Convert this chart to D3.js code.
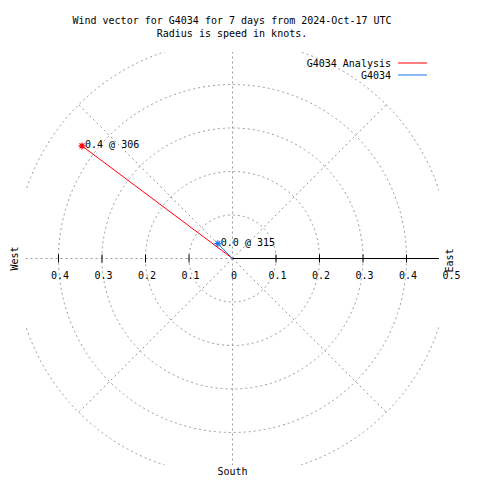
<!DOCTYPE html>
<html>
<head>
<meta charset="utf-8">
<script src="https://cdn.jsdelivr.net/npm/d3@7"></script>
<style>
  html, body { margin: 0; padding: 0; background: #fff; }
  svg { display: block; }
  text { font-family: "DejaVu Sans Mono", "Liberation Mono", monospace; font-size: 10px; fill: #000; }
</style>
</head>
<body>
<div id="chart"></div>
<script>
// ---- data ----
const titleLines = ["Wind vector for G4034 for 7 days from 2024-Oct-17 UTC", "Radius is speed in knots."];
const seriesNames = ["G4034 Analysis", "G4034"];
const speeds = [0.432, 0.048];       // knots
const directions = [306.8, 315.4];   // degrees, compass
const seriesColors = ["#ff0000", "#1e78e6"];
const ringValues = [0.1, 0.2, 0.3, 0.4, 0.5];
const spokeAngles = [0, 45, 90, 135, 180, 225, 270, 315];
const tickValues = [-0.4, -0.3, -0.2, -0.1, 0, 0.1, 0.2, 0.3, 0.4, 0.5];
const compassLabels = ["West", "East", "South"];

// ---- layout ----
const W = 480, H = 480;
const cx = 232.5, cy = 258.5, R = 217.5, clipHalf = 206.5;
const x = d3.scaleLinear().domain([-0.5, 0.5]).range([cx - R, cx + R]);
const y = d3.scaleLinear().domain([-0.5, 0.5]).range([cy + R, cy - R]);
const r = d3.scaleLinear().domain([0, 0.5]).range([0, R]);

const svg = d3.select("#chart").append("svg").attr("width", W).attr("height", H);
svg.append("rect").attr("width", W).attr("height", H).attr("fill", "#fff");

svg.append("defs").append("clipPath").attr("id", "plotclip")
  .append("rect").attr("x", cx - clipHalf).attr("y", cy - clipHalf)
  .attr("width", clipHalf * 2).attr("height", clipHalf * 2);

const grid = svg.append("g").attr("clip-path", "url(#plotclip)");
const gridStyle = sel => sel.attr("fill", "none").attr("stroke", "#9a9a9a")
  .attr("stroke-width", 1).attr("stroke-dasharray", "2,3");

grid.selectAll("circle.ring").data(ringValues).join("circle")
  .attr("class", "ring").attr("cx", x(0)).attr("cy", y(0)).attr("r", d => r(d))
  .call(gridStyle);

const maxR = d3.max(ringValues);
grid.selectAll("line.spoke").data(spokeAngles.filter(a => a !== 90)).join("line")
  .attr("class", "spoke")
  .attr("x1", x(0)).attr("y1", y(0))
  .attr("x2", a => x(maxR * Math.sin(a * Math.PI / 180)))
  .attr("y2", a => y(maxR * Math.cos(a * Math.PI / 180)))
  .call(gridStyle);

// East half of axis: solid black
grid.append("line")
  .attr("x1", x(0)).attr("y1", y(0)).attr("x2", x(maxR)).attr("y2", y(0))
  .attr("stroke", "#000").attr("stroke-width", 1);

// ticks on horizontal axis
const axis = d3.axisBottom(x).tickValues(tickValues)
  .tickSize(0).tickPadding(0)
  .tickFormat(d => d === 0 ? "0" : d3.format(".1f")(Math.abs(d)));
const axG = svg.append("g").attr("transform", `translate(0,${y(0)})`).call(axis);
axG.select(".domain").remove();
axG.selectAll(".tick line").remove();
axG.selectAll(".tick text")
  .attr("font-family", "DejaVu Sans Mono, monospace").attr("font-size", 10)
  .attr("fill", "#000").attr("dx", 1).attr("dy", 0).attr("y", 20.5);
const tickMarks = svg.append("g").attr("clip-path", "url(#plotclip)");
tickMarks.selectAll("line").data(tickValues.filter(d => d !== 0)).join("line")
  .attr("x1", d => x(d)).attr("x2", d => x(d))
  .attr("y1", y(0) - 4).attr("y2", y(0) + 4)
  .attr("stroke", "#000").attr("stroke-width", 1);

// compass labels
svg.append("text").text(compassLabels[0])
  .attr("transform", `translate(14,${y(0)}) rotate(-90)`)
  .attr("text-anchor", "middle").attr("dominant-baseline", "central");
svg.append("text").text(compassLabels[1])
  .attr("transform", `translate(449,${y(0) + 2}) rotate(-90)`)
  .attr("text-anchor", "middle").attr("dominant-baseline", "central");
svg.append("text").text(compassLabels[2])
  .attr("x", x(0)).attr("y", 475).attr("text-anchor", "middle");

// vectors
const series = seriesNames.map((name, i) => {
  const a = directions[i] * Math.PI / 180;
  return { name, speed: speeds[i], dir: directions[i], color: seriesColors[i],
           px: x(speeds[i] * Math.sin(a)), py: y(speeds[i] * Math.cos(a)) };
});

const vec = svg.append("g");
vec.selectAll("line.vec").data(series).join("line")
  .attr("x1", x(0)).attr("y1", y(0))
  .attr("x2", d => d.px).attr("y2", d => d.py)
  .attr("stroke", d => d.color).attr("stroke-width", 1);

const starPath = (() => {
  const p = d3.path(), s = 3.5, t = 2.5;
  p.moveTo(-s, 0); p.lineTo(s, 0);
  p.moveTo(0, -s); p.lineTo(0, s);
  p.moveTo(-t, -t); p.lineTo(t, t);
  p.moveTo(-t, t); p.lineTo(t, -t);
  return p.toString();
})();
vec.selectAll("path.star").data(series).join("path")
  .attr("d", starPath)
  .attr("transform", d => `translate(${d.px},${d.py})`)
  .attr("stroke", d => d.color).attr("stroke-width", 1.2).attr("fill", "none");

vec.selectAll("text.vlab").data(series).join("text")
  .attr("x", d => d.px + 3).attr("y", d => d.py + 2)
  .text(d => `${d3.format(".1f")(d.speed)} @ ${Math.floor(d.dir)}`);

// legend
const leg = svg.append("g");
series.forEach((d, i) => {
  const ly = 63 + i * 12;
  leg.append("text").attr("x", 391).attr("y", ly + 3.5).attr("text-anchor", "end").text(d.name);
  leg.append("line").attr("x1", 398).attr("x2", 427).attr("y1", ly).attr("y2", ly)
    .attr("stroke", d.color).attr("stroke-width", 1);
});

// title
svg.selectAll("text.title").data(titleLines).join("text")
  .attr("class", "title")
  .attr("x", 232).attr("y", (d, i) => 23.5 + i * 13)
  .attr("text-anchor", "middle").text(d => d);
</script>
</body>
</html>
